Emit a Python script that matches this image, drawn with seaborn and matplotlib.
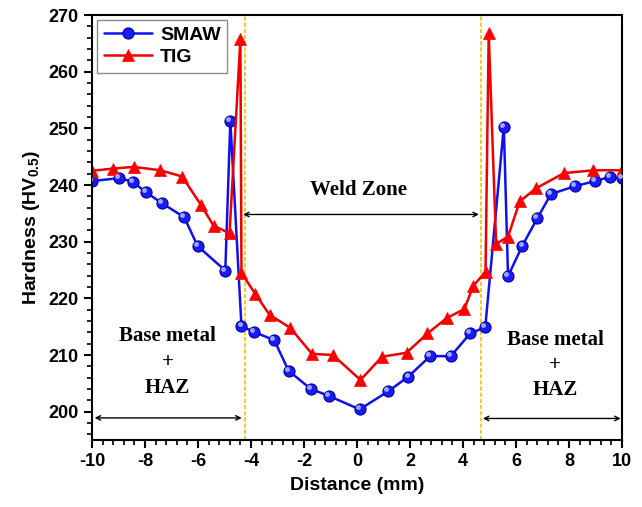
import numpy as np
import pandas as pd
import seaborn as sns
import matplotlib.pyplot as plt

# Hardness profile values
smaw_x = [-10, -8.99, -8.47, -7.96, -7.36, -6.52, -6.01, -4.97, -4.78, -4.36, -3.9, -3.12,
          -2.58, -1.74, -1.07, 0.1, 1.18, 1.94, 2.76, 3.54, 4.27, 4.84, 5.54, 5.70, 6.24,
          6.8, 7.32, 8.23, 8.99, 9.53, 10]
smaw_y = [240.7, 241.2, 240.6, 238.7, 236.8, 234.3, 229.2, 224.9, 251.3, 215.1, 214.1, 212.6,
          207.2, 204.0, 202.8, 200.4, 203.6, 206.2, 209.8, 209.8, 213.8, 214.9, 250.3, 223.9, 229.3,
          234.1, 238.4, 239.8, 240.7, 241.4, 241.2]
tig_x = [-10, -9.21, -8.43, -7.42, -6.6, -5.89, -5.41, -4.81, -4.40, -4.36, -3.84, -3.3,
         -2.52, -1.7, -0.91, 0.13, 0.95, 1.87, 2.66, 3.38, 4.05, 4.39, 4.85, 4.97, 5.25,
         5.70, 6.14, 6.75, 7.81, 8.92, 10]
tig_y = [242.5, 242.9, 243.2, 242.6, 241.5, 236.5, 232.8, 231.5, 265.7, 224.5, 220.8, 217.1,
         214.8, 210.2, 210.0, 205.6, 209.7, 210.4, 213.8, 216.5, 218.1, 222.2, 224.7, 266.8, 229.6,
         230.9, 237.1, 239.4, 242.1, 242.6, 242.6]

weld_edges = [-4.22, 4.68]
x_ticks = [-10, -8, -6, -4, -2, 0, 2, 4, 6, 8, 10]
y_ticks = [200, 210, 220, 230, 240, 250, 260, 270]

sns.set_style("ticks")
plt.rcParams['font.family'] = ['Liberation Sans', 'DejaVu Sans']
plt.rcParams['mathtext.fontset'] = 'custom'
plt.rcParams['mathtext.bf'] = 'Liberation Sans:bold'
plt.rcParams['mathtext.rm'] = 'Liberation Sans:bold'
plt.rcParams['axes.unicode_minus'] = False
plt.rcParams['xtick.color'] = 'black'
plt.rcParams['ytick.color'] = 'black'
plt.rcParams['text.color'] = 'black'
plt.rcParams['axes.labelcolor'] = 'black'
plt.rcParams['axes.edgecolor'] = 'black'

fig = plt.figure(figsize=(6.42, 5.07), dpi=100)
ax = fig.add_axes([92 / 642, 67 / 507, 530 / 642, 425 / 507])

sns.lineplot(x=smaw_x, y=smaw_y, sort=False, ax=ax, color='#1010ee', lw=1.8,
             marker='o', markersize=8, markerfacecolor='#1a1aff', markeredgecolor='#0000a0',
             markeredgewidth=0.8, label='SMAW')
sns.lineplot(x=tig_x, y=tig_y, sort=False, ax=ax, color='#ee0000', lw=1.8,
             marker='^', markersize=9, markerfacecolor='#ff0000', markeredgecolor='#ff0000',
             markeredgewidth=0.5, label='TIG')
# small highlight on the blue spheres
ax.plot(np.array(smaw_x) - 0.07, np.array(smaw_y) + 0.35, ls='none', marker='o',
        markersize=2.5, color='#9fa8ff', zorder=3)

for xe in weld_edges:
    ax.axvline(xe, color='#f5c000', ls=(0, (2.5, 1.2)), lw=1.2, zorder=1)

arrow = dict(arrowstyle='<->', color='black', lw=1.0, shrinkA=0, shrinkB=0, mutation_scale=8)
ax.annotate('', xy=(-4.3, 234.8), xytext=(4.6, 234.8), arrowprops=arrow)
ax.annotate('', xy=(-9.9, 198.9), xytext=(-4.35, 198.9), arrowprops=arrow)
ax.annotate('', xy=(4.75, 198.8), xytext=(9.95, 198.8), arrowprops=arrow)

serif = dict(family='Liberation Serif', fontweight='bold', fontsize=15, ha='center', va='center')
ax.text(0.05, 239.2, 'Weld Zone', **serif)
ax.text(-7.15, 213.4, 'Base metal', **serif)
ax.text(-7.15, 208.8, '+', **serif)
ax.text(-7.15, 204.1, 'HAZ', **serif)
ax.text(7.47, 212.6, 'Base metal', **serif)
ax.text(7.47, 208.2, '+', **serif)
ax.text(7.47, 203.8, 'HAZ', **serif)

ax.set_xlim(-10, 10)
ax.set_ylim(195, 270)
ax.set_xticks(x_ticks)
ax.set_yticks(y_ticks)
ax.set_xticks(np.arange(-10, 10.01, 0.4), minor=True)
ax.set_yticks(np.arange(196, 270.1, 2), minor=True)
ax.tick_params(which='major', direction='out', length=6, width=1.5, labelsize=13)
ax.tick_params(which='minor', direction='out', length=3.5, width=1.2)
for lab in ax.get_xticklabels() + ax.get_yticklabels():
    lab.set_fontweight('bold')
for sp in ax.spines.values():
    sp.set_linewidth(1.5)
    sp.set_visible(True)

ax.set_xlabel('Distance (mm)', fontsize=14, fontweight='bold', labelpad=5)
ax.set_ylabel(r'Hardness (HV$_{\mathbf{0.5}}$)', fontsize=14, fontweight='bold', labelpad=5)

leg = ax.legend(loc='upper left', prop={'weight': 'bold', 'size': 14},
                handlelength=2.5, frameon=True, fancybox=False, borderaxespad=0.25,
                borderpad=0.35, labelspacing=0.2, handletextpad=0.4)
leg.get_frame().set_edgecolor('#707070')
leg.get_frame().set_linewidth(1.0)

fig.savefig('out.png', dpi=100)
